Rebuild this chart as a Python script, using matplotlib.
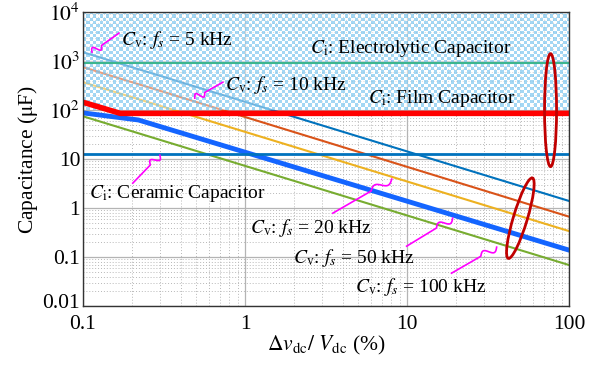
import numpy as np
import matplotlib
matplotlib.use('Agg')
import matplotlib.pyplot as plt
from matplotlib.patches import Ellipse
from matplotlib.transforms import ScaledTranslation

plt.rcParams['font.family'] = ['Liberation Serif', 'DejaVu Serif']
plt.rcParams['mathtext.fontset'] = 'stix'

# ---- data ----
dv = [0.1, 100]                  # ripple (%)
c_5k = [1520, 1.4]
c_10k = [755, 0.67]
c_20k = [372, 0.34]
dv_50k = [0.1, 0.22, 100]
c_50k = [88, 63, 0.139]
c_100k = [75, 0.069]

dv_film = [0.1, 0.17, 100]
c_film = [145, 86, 86]
c_elec = 900
c_ceramic = 13

x_ticks = [0.1, 1, 10, 100]
x_ticklabels = ['0.1', '1', '10', '100']
y_ticks = [0.01, 0.1, 1, 10, 100, 1000, 10000]
y_ticklabels = ['0.01', '0.1', '1', '10', r'$10^2$', r'$10^3$', r'$10^4$']

fig = plt.figure(figsize=(6.1, 3.68), dpi=100)
ax = fig.add_axes([0.136, 0.168, 0.797, 0.799])
ax.set_xscale('log')
ax.set_yscale('log')
ax.set_xlim(0.1, 100)
ax.set_ylim(0.01, 1e4)
ax.set_autoscale_on(False)

# grid
ax.grid(which='major', color='#b4b4b4', lw=0.9, ls='-', zorder=0)
ax.grid(which='minor', color='#b8b8b8', lw=0.7, ls=(0, (1, 2)), zorder=0)

# Cv lines
ax.plot(dv, c_5k, color='#0072BD', lw=1.5, zorder=2)
ax.plot(dv, c_10k, color='#D95319', lw=1.5, zorder=2)
ax.plot(dv, c_20k, color='#EDB120', lw=1.5, zorder=2)
ax.plot(dv_50k, c_50k, color='#1465FF', lw=3.5, zorder=2)
ax.plot(dv, c_100k, color='#77AC30', lw=1.5, zorder=2)

# checker area (electrolytic/film region), 10^2 .. 10^4
nx, ny = 147, 30
ii, jj = np.meshgrid(np.arange(nx), np.arange(ny))
chk = (ii + jj) % 2
rgba = np.zeros((ny, nx, 4))
rgba[chk == 0] = [0.55, 0.81, 0.95, 0.8]
rgba[chk == 1] = [1.0, 1.0, 1.0, 0.45]
ax.imshow(rgba, extent=(0, 1, 2 / 3, 1), transform=ax.transAxes,
          interpolation='nearest', aspect='auto', zorder=2.5)
ax.set_xlim(0.1, 100)
ax.set_ylim(0.01, 1e4)

# Ci lines
ax.axhline(c_elec, color='#3DB58E', lw=1.5, zorder=3)
ax.plot(dv_film, c_film, color='#FF0000', lw=4, zorder=3.2, solid_capstyle='butt')
ax.axhline(c_ceramic, color='#0072BD', lw=2, zorder=3)

ax.set_xticks(x_ticks)
ax.set_xticklabels(x_ticklabels)
ax.set_yticks(y_ticks)
ax.set_yticklabels(y_ticklabels)
ax.tick_params(which='both', direction='in', length=0, labelsize=15.5)
ax.tick_params(axis='x', pad=6)
ax.tick_params(axis='y', pad=2)
# lift the lowest y label a little so it clears the x labels
lab0 = ax.get_yticklabels()[0]
lab0.set_transform(lab0.get_transform() + ScaledTranslation(0, 4 / 72, fig.dpi_scale_trans))
for s in ax.spines.values():
    s.set_color('#333333')
    s.set_linewidth(1.0)
    s.set_zorder(5)

ax.set_xlabel(r'$\Delta v_{\mathrm{dc}}/\ V_{\mathrm{dc}}$ (%)', fontsize=15.5, labelpad=0)
ax.set_ylabel(r'Capacitance ($\mathrm{\mu}$F)', fontsize=15.5, labelpad=2)

# text labels
fs = 14
txt = [
    (0.171, 2680, r'$C_{\mathrm{v}}$: $f_s$ = 5 kHz'),
    (0.75, 324, r'$C_{\mathrm{v}}$: $f_s$ = 10 kHz'),
    (2.51, 1840, r'$C_{\mathrm{i}}$: Electrolytic Capacitor'),
    (5.72, 176, r'$C_{\mathrm{i}}$: Film Capacitor'),
    (0.109, 2.02, r'$C_{\mathrm{i}}$: Ceramic Capacitor'),
    (1.07, 0.39, r'$C_{\mathrm{v}}$: $f_s$ = 20 kHz'),
    (1.97, 0.095, r'$C_{\mathrm{v}}$: $f_s$ = 50 kHz'),
    (4.75, 0.0245, r'$C_{\mathrm{v}}$: $f_s$ = 100 kHz'),
]
for x, y, s in txt:
    ax.text(x, y, s, fontsize=fs, ha='left', va='center', zorder=6)

# magenta squiggles: (line end, text end) in data coords
squig = [
    ((0.1137, 1527), (0.1667, 3727)),
    ((0.490, 175.8), (0.730, 372)),
    ((0.298, 12.08), (0.203, 3.24)),
    ((8.04, 3.91), (3.48, 0.79)),
    ((19.1, 0.625), (9.94, 0.1676)),
    ((35.7, 0.160), (18.8, 0.0471)),
]
fig.canvas.draw()
for p0, p1 in squig:
    a = ax.transData.transform(p0)
    b = ax.transData.transform(p1)
    d = b - a
    L = np.hypot(*d)
    u = d / L
    n = np.array([-u[1], u[0]])
    t = np.linspace(0, 1, 120)
    w = 0.35
    off = np.where(t < w, 3.5 * np.sin(2 * np.pi * t / w), 0.0)
    pts = a[None, :] + t[:, None] * d[None, :] + off[:, None] * n[None, :]
    dpts = ax.transData.inverted().transform(pts)
    ax.plot(dpts[:, 0], dpts[:, 1], color='#FF00FF', lw=1.2, zorder=6, clip_on=False)

# red ellipses (size in inches)
for (cx, cy), w_in, h_in, ang in [((76.8, 100), 0.12, 1.13, 0),
                                   ((50, 0.625), 0.14, 0.84, -16.7)]:
    tr = fig.dpi_scale_trans + ScaledTranslation(cx, cy, ax.transData)
    ax.add_patch(Ellipse((0, 0), w_in, h_in, angle=ang, transform=tr,
                         fill=False, ec='#C00000', lw=2, zorder=7, clip_on=False))

fig.savefig('out.png', dpi=100)
